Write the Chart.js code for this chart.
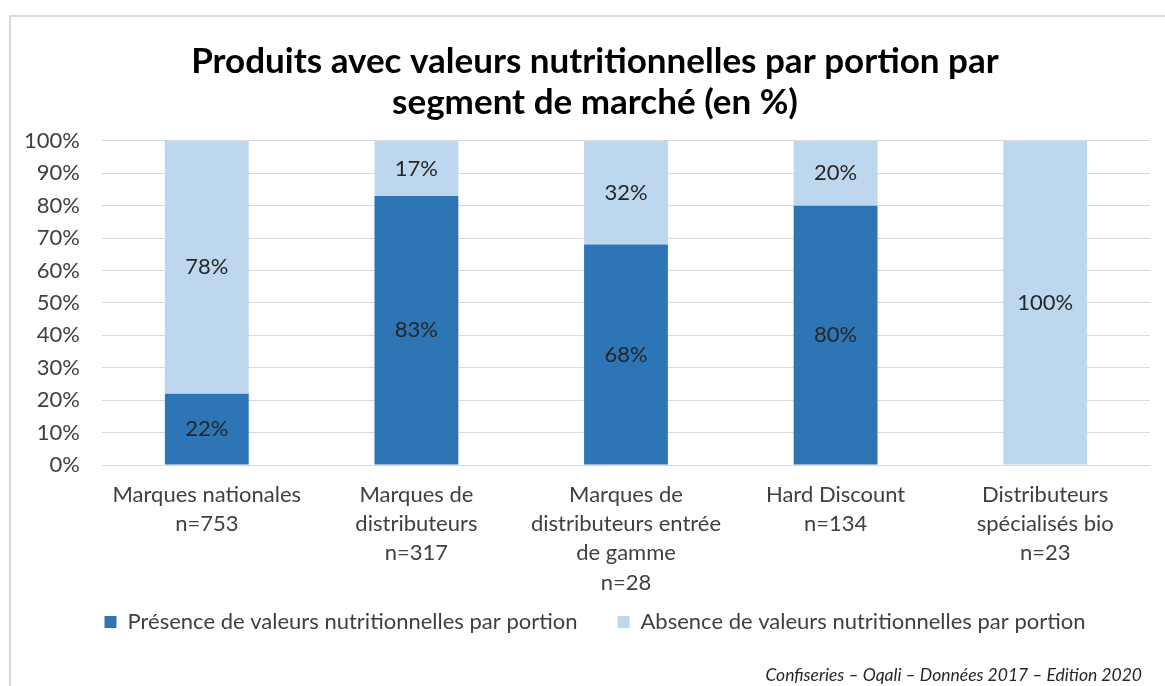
<!DOCTYPE html>
<html>
<head>
<meta charset="utf-8">
<script src="https://cdn.jsdelivr.net/npm/chart.js@4"></script>
<style>
  body { margin: 0; background: #fff; overflow: hidden; }
  #cadre { position: absolute; left: 9px; top: 15px; width: 1170px; height: 700px; border: 2px solid #d9d9d9; box-sizing: border-box; }
  #wrap { position: absolute; left: 0; top: 0; width: 1165px; height: 686px; }
</style>
</head>
<body>
<div id="cadre"></div>
<div id="wrap"><canvas id="graphique"></canvas></div>
<script>
const segments = [
  ["Marques nationales", "n=753"],
  ["Marques de", "distributeurs", "n=317"],
  ["Marques de", "distributeurs entrée", "de gamme", "n=28"],
  ["Hard Discount", "n=134"],
  ["Distributeurs", "spécialisés bio", "n=23"]
];
const presence = [22, 83, 68, 80, 0];
const absence = [78, 17, 32, 20, 100];
const yTicks = [0, 10, 20, 30, 40, 50, 60, 70, 80, 90, 100];

const police = "Lato, 'Open Sans', sans-serif";

// etiquettes au milieu de chaque segment
const etiquettes = {
  id: "etiquettes",
  afterDatasetsDraw(chart) {
    const ctx = chart.ctx;
    ctx.save();
    ctx.font = "22px " + police;
    ctx.fillStyle = "#262626";
    ctx.textAlign = "center";
    ctx.textBaseline = "middle";
    chart.data.datasets.forEach((ds, i) => {
      chart.getDatasetMeta(i).data.forEach((bar, j) => {
        const v = ds.data[j];
        if (!v) return;
        const p = bar.getProps(["x", "y", "base"], true);
        ctx.fillText(v + "%", p.x, (p.y + p.base) / 2);
      });
    });
    ctx.restore();
  }
};

// les libelles peuvent deborder de la boite de l'axe
const sansClip = s => { s._computeLabelArea = () => undefined; };

new Chart(document.getElementById("graphique"), {
  type: "bar",
  data: {
    labels: segments,
    datasets: [
      { label: "Présence de valeurs nutritionnelles par portion", data: presence, backgroundColor: "#2e75b6" },
      { label: "Absence de valeurs nutritionnelles par portion", data: absence, backgroundColor: "#bdd7ee" }
    ]
  },
  options: {
    responsive: true,
    maintainAspectRatio: false,
    animation: false,
    layout: { padding: { left: 40, right: 15, top: 0, bottom: 0 } },
    datasets: { bar: { categoryPercentage: 1, barPercentage: 0.4 } },
    scales: {
      x: {
        stacked: true,
        grid: { display: false, drawTicks: false },
        border: { display: false },
        ticks: { color: "#404040", font: { family: police, size: 22, lineHeight: 1.33 }, padding: 15, maxRotation: 0, autoSkip: false },
        afterFit(s) { s.height = 106; sansClip(s); }
      },
      y: {
        stacked: true,
        min: 0, max: 100,
        afterBuildTicks(s) { s.ticks = yTicks.map(v => ({ value: v })); },
        grid: { color: "#d9d9d9", drawTicks: false },
        border: { display: false },
        ticks: { color: "#404040", font: { family: police, size: 22 }, padding: 22, callback: v => v + "%" },
        afterFit(s) { s.width = 62; sansClip(s); }
      }
    },
    plugins: {
      title: {
        display: true,
        text: ["Produits avec valeurs nutritionnelles par portion par", "segment de marché (en %)"],
        color: "#000",
        font: { family: police, size: 35, weight: "bold", lineHeight: 1.17 },
        padding: { top: 41.5, bottom: 17.5 }
      },
      subtitle: {
        display: true,
        position: "bottom",
        align: "end",
        text: "Confiseries – Oqali – Données 2017 – Edition 2020\u2002",
        color: "#262626",
        font: { family: police, size: 17.5, style: "italic", lineHeight: 1.2 },
        padding: { top: 22, bottom: 0 }
      },
      legend: {
        position: "bottom",
        labels: { boxWidth: 12, boxHeight: 12, padding: 40, color: "#404040", font: { family: police, size: 22 } }
      },
      tooltip: { enabled: false }
    }
  },
  plugins: [etiquettes]
});
</script>
</body>
</html>
